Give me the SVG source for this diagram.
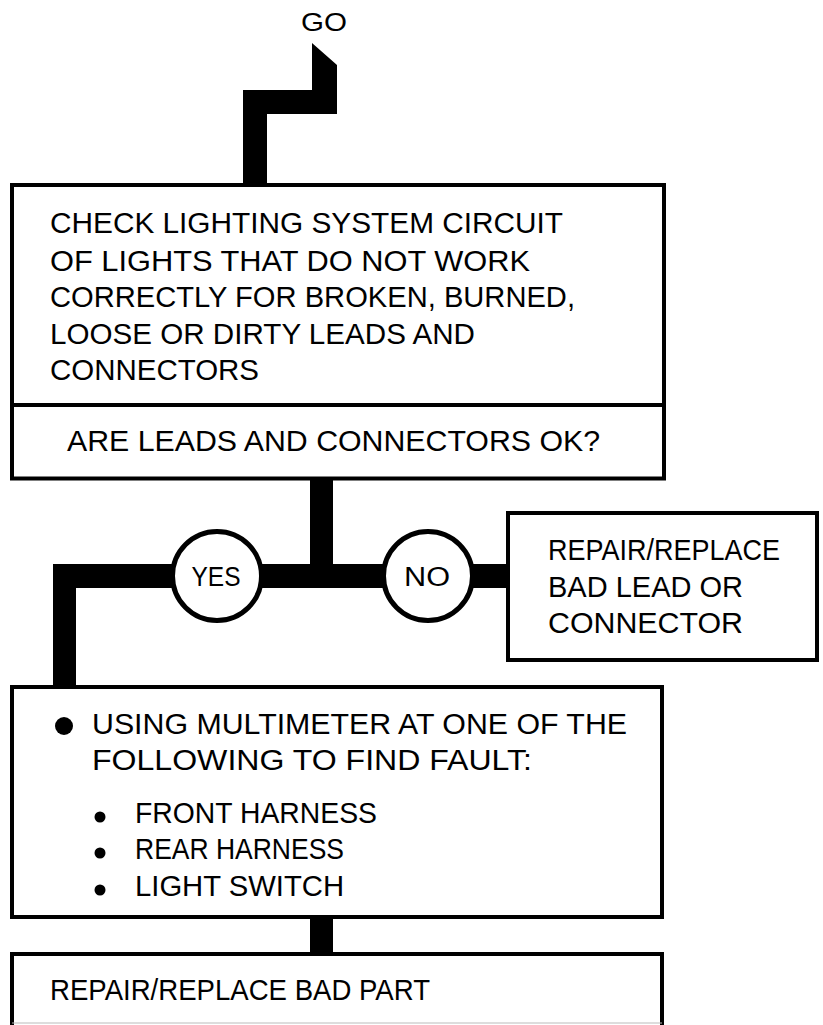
<svg xmlns="http://www.w3.org/2000/svg" width="823" height="1025" viewBox="0 0 823 1025">
<style>
.box{fill:#fff;stroke:#000;stroke-width:4}
.ln{stroke:#000;stroke-width:4;fill:none}
.t{font-family:"Liberation Sans",Arial,sans-serif;font-size:30px;fill:#000}
.c{font-family:"Liberation Sans",Arial,sans-serif;font-size:27px;fill:#000;text-anchor:middle}
.bar{fill:#000}
.circ{fill:#fff;stroke:#000;stroke-width:5}
</style>
<rect width="823" height="1025" fill="#fff"/>
<g id="start">
<text class="t" x="324" y="31" style="font-size:26px;text-anchor:middle" textLength="46" lengthAdjust="spacingAndGlyphs">GO</text>
</g>
<g id="connectors">
<polygon class="bar" points="312,43 337,65 337,114 267,114 267,186 243,186 243,90 312,90"/>
<rect class="bar" x="310" y="478" width="23" height="98"/>
<rect class="bar" x="53" y="564" width="456" height="24"/>
<rect class="bar" x="53" y="564" width="23" height="124"/>
<rect class="bar" x="310" y="916" width="23" height="40"/>
</g>
<g id="check">
<rect class="box" x="12" y="185" width="652" height="293.5"/>
<line class="ln" x1="12" y1="405" x2="664" y2="405"/>
<text class="t" x="50" y="233" textLength="513" lengthAdjust="spacingAndGlyphs">CHECK LIGHTING SYSTEM CIRCUIT</text>
<text class="t" x="50" y="270.5" textLength="480" lengthAdjust="spacingAndGlyphs">OF LIGHTS THAT DO NOT WORK</text>
<text class="t" x="50" y="307" textLength="525" lengthAdjust="spacingAndGlyphs">CORRECTLY FOR BROKEN, BURNED,</text>
<text class="t" x="50" y="343.5" textLength="425" lengthAdjust="spacingAndGlyphs">LOOSE OR DIRTY LEADS AND</text>
<text class="t" x="50" y="380" textLength="209" lengthAdjust="spacingAndGlyphs">CONNECTORS</text>
<text class="t" x="67" y="451" textLength="533" lengthAdjust="spacingAndGlyphs">ARE LEADS AND CONNECTORS OK?</text>
</g>
<g id="yes">
<circle class="circ" cx="217" cy="576" r="44.5"/>
<text class="c" x="216" y="586" textLength="49" lengthAdjust="spacingAndGlyphs">YES</text>
</g>
<g id="no">
<circle class="circ" cx="428" cy="576" r="44.5"/>
<text class="c" x="427" y="586" textLength="46" lengthAdjust="spacingAndGlyphs">NO</text>
</g>
<g id="repair-lead">
<rect class="box" x="508" y="513" width="309" height="147"/>
<text class="t" x="548" y="560" textLength="232" lengthAdjust="spacingAndGlyphs">REPAIR/REPLACE</text>
<text class="t" x="548" y="597" textLength="195" lengthAdjust="spacingAndGlyphs">BAD LEAD OR</text>
<text class="t" x="548" y="633" textLength="195" lengthAdjust="spacingAndGlyphs">CONNECTOR</text>
</g>
<g id="multimeter">
<rect class="box" x="12" y="687" width="650" height="230"/>
<circle cx="64" cy="726" r="9"/>
<text class="t" x="92" y="734" textLength="535" lengthAdjust="spacingAndGlyphs">USING MULTIMETER AT ONE OF THE</text>
<text class="t" x="92" y="770" textLength="440" lengthAdjust="spacingAndGlyphs">FOLLOWING TO FIND FAULT:</text>
<circle cx="100" cy="817" r="5.5"/>
<text class="t" x="135" y="823" textLength="242" lengthAdjust="spacingAndGlyphs">FRONT HARNESS</text>
<circle cx="100" cy="853" r="5.5"/>
<text class="t" x="135" y="859" textLength="209" lengthAdjust="spacingAndGlyphs">REAR HARNESS</text>
<circle cx="100" cy="890" r="5.5"/>
<text class="t" x="135" y="896" textLength="209" lengthAdjust="spacingAndGlyphs">LIGHT SWITCH</text>
</g>
<g id="repair-part">
<path class="ln" d="M12,1025 V954 H662 V1025"/>
<line x1="12" y1="1023" x2="662" y2="1023" stroke="#bbb" stroke-width="1"/>
<text class="t" x="50" y="1000" textLength="380" lengthAdjust="spacingAndGlyphs">REPAIR/REPLACE BAD PART</text>
</g>
</svg>
